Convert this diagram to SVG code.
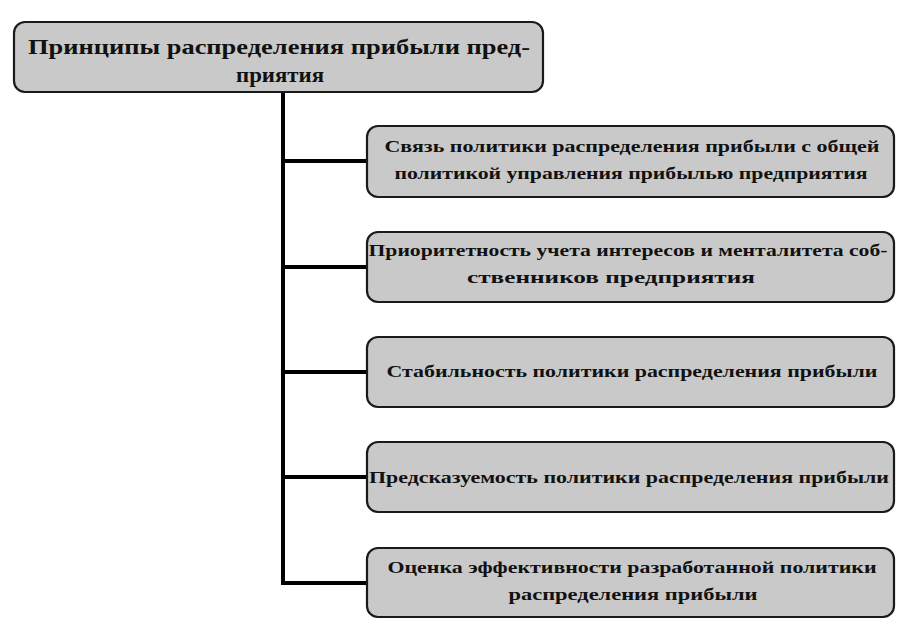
<svg xmlns="http://www.w3.org/2000/svg" width="902" height="624" viewBox="0 0 902 624">
<style>
.box{fill:#c9c9c9;stroke:#1a1a1a;stroke-width:2.2}
.t{font-family:"Liberation Serif","Times New Roman",serif;fill:#111;text-anchor:middle}
.h{font-size:22px;font-weight:bold}
.c{font-size:17px;font-weight:bold}
.ln{stroke:#000;stroke-width:4;fill:none}
</style>
<rect width="902" height="624" fill="#fff"/>
<g id="connectors">
<path class="ln" d="M283 91 V583"/>
<path class="ln" d="M281 161 H368 M281 267 H368 M281 372 H368 M281 477 H368 M281 583 H368"/>
</g>
<g id="root">
<rect class="box" x="14" y="22" width="529" height="70" rx="11"/>
<text class="t h" x="279" y="54" textLength="502" lengthAdjust="spacingAndGlyphs">Принципы распределения прибыли пред-</text>
<text class="t h" x="280" y="82" textLength="88" lengthAdjust="spacingAndGlyphs">приятия</text>
</g>
<g id="n1">
<rect class="box" x="367" y="126" width="527" height="71" rx="11"/>
<text class="t c" x="632" y="152" textLength="495" lengthAdjust="spacingAndGlyphs">Связь политики распределения прибыли с общей</text>
<text class="t c" x="631" y="179" textLength="473" lengthAdjust="spacingAndGlyphs">политикой управления прибылью предприятия</text>
</g>
<g id="n2">
<rect class="box" x="367" y="232" width="527" height="70" rx="11"/>
<text class="t c" x="628" y="256" textLength="519" lengthAdjust="spacingAndGlyphs">Приоритетность учета интересов и менталитета соб-</text>
<text class="t c" x="611" y="283" textLength="288" lengthAdjust="spacingAndGlyphs">ственников предприятия</text>
</g>
<g id="n3">
<rect class="box" x="367" y="337" width="527" height="70" rx="11"/>
<text class="t c" x="632" y="377" textLength="491" lengthAdjust="spacingAndGlyphs">Стабильность политики распределения прибыли</text>
</g>
<g id="n4">
<rect class="box" x="367" y="442" width="527" height="70" rx="11"/>
<text class="t c" x="629" y="483" textLength="520" lengthAdjust="spacingAndGlyphs">Предсказуемость политики распределения прибыли</text>
</g>
<g id="n5">
<rect class="box" x="367" y="548" width="527" height="69" rx="11"/>
<text class="t c" x="632" y="573" textLength="489" lengthAdjust="spacingAndGlyphs">Оценка эффективности разработанной политики</text>
<text class="t c" x="633" y="600" textLength="249" lengthAdjust="spacingAndGlyphs">распределения прибыли</text>
</g>
</svg>
